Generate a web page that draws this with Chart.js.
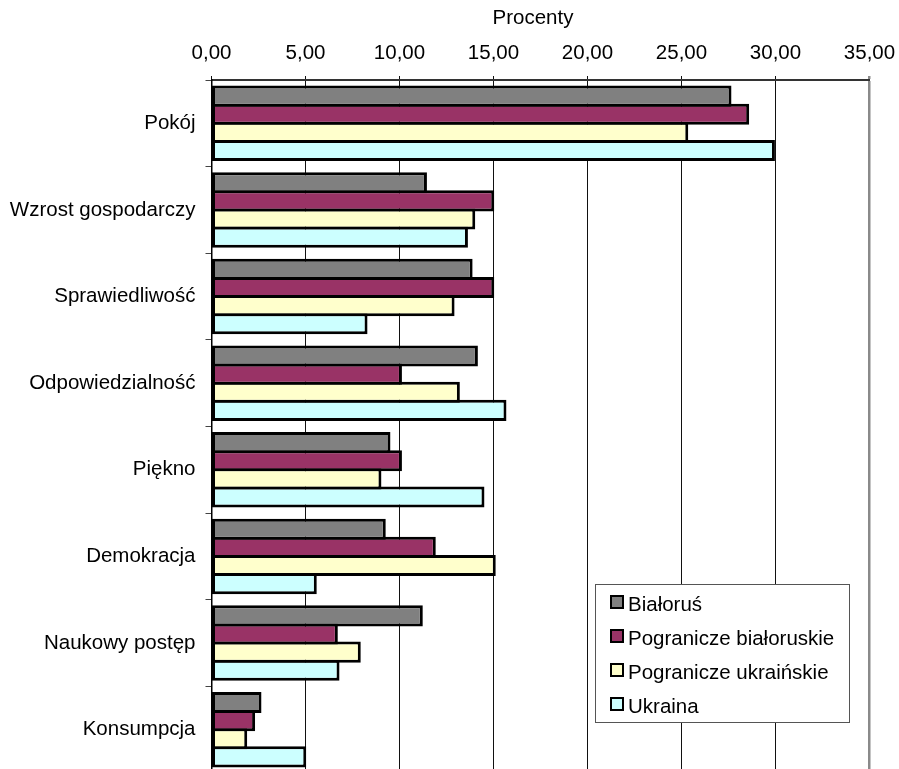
<!DOCTYPE html>
<html lang="pl">
<head>
  <meta charset="UTF-8" />
  <title>Wartości - Procenty</title>
  <script src="https://cdn.jsdelivr.net/npm/chart.js"></script>
  <style>
    html, body {
      margin: 0;
      padding: 0;
      background: #fff;
      overflow: hidden;
    }
    #wrap {
      position: relative;
      width: 899px;
      height: 773px;
    }
  </style>
</head>
<body>
  <div id="wrap">
    <canvas id="wartosciChart"></canvas>
  </div>

  <script>
    const categories = [
      "Pokój",
      "Wzrost gospodarczy",
      "Sprawiedliwość",
      "Odpowiedzialność",
      "Piękno",
      "Demokracja",
      "Naukowy postęp",
      "Konsumpcja"
    ];

    const bialorus = [27.66, 11.46, 13.89, 14.17, 9.52, 9.27, 11.24, 2.66];
    const pograniczeBialoruskie = [28.60, 15.04, 15.04, 10.13, 10.13, 11.93, 6.72, 2.32];
    const pograniczeUkrainskie = [25.36, 14.03, 12.93, 13.21, 9.04, 15.12, 7.94, 1.90];
    const ukraina = [29.97, 13.64, 8.30, 15.69, 14.52, 5.60, 6.81, 5.04];

    const tickLabels = ["0,00", "5,00", "10,00", "15,00", "20,00", "25,00", "30,00", "35,00"];

    const FONT = "'Liberation Sans', Arial, sans-serif";
    const FONT_SIZE = 20.5;

    // legenda w ramce, na obszarze wykresu (prawy dół)
    const boxLegend = {
      id: "boxLegend",
      afterDraw(chart) {
        const ctx = chart.ctx;
        const x = 595, y = 584, w = 254, h = 138;
        ctx.save();
        ctx.fillStyle = "#fff";
        ctx.fillRect(x, y, w, h);
        ctx.strokeStyle = "#555";
        ctx.lineWidth = 1;
        ctx.strokeRect(x + 0.5, y + 0.5, w, h);

        ctx.font = FONT_SIZE + "px " + FONT;
        ctx.textBaseline = "alphabetic";
        ctx.textAlign = "left";
        chart.data.datasets.forEach((ds, i) => {
          const rowY = y + 11 + i * 34;
          ctx.fillStyle = "#000";
          ctx.fillRect(x + 15, rowY, 14, 14);
          ctx.fillStyle = ds.backgroundColor;
          ctx.fillRect(x + 17, rowY + 2, 10, 10);
          ctx.fillStyle = "#000";
          ctx.fillText(ds.label, x + 33, rowY + 16);
        });
        ctx.restore();
      }
    };

    // podpis osi X nad etykietami
    const axisCaption = {
      id: "axisCaption",
      afterDraw(chart) {
        const ctx = chart.ctx;
        ctx.save();
        ctx.font = FONT_SIZE + "px " + FONT;
        ctx.fillStyle = "#000";
        ctx.textAlign = "center";
        ctx.textBaseline = "alphabetic";
        ctx.fillText("Procenty", 533, 24);
        ctx.restore();
      }
    };

    function makeSet(label, data, color) {
      return {
        label,
        data,
        backgroundColor: color,
        borderColor: "#000",
        borderWidth: 3,
        borderSkipped: false,
        categoryPercentage: 0.838,
        barPercentage: 1.165
      };
    }

    const ctx = document.getElementById("wartosciChart").getContext("2d");
    new Chart(ctx, {
      type: "bar",
      data: {
        labels: categories,
        datasets: [
          makeSet("Białoruś", bialorus, "#808080"),
          makeSet("Pogranicze białoruskie", pograniczeBialoruskie, "#993366"),
          makeSet("Pogranicze ukraińskie", pograniczeUkrainskie, "#FFFFCC"),
          makeSet("Ukraina", ukraina, "#CCFFFF")
        ]
      },
      options: {
        indexAxis: "y",
        responsive: true,
        maintainAspectRatio: false,
        animation: false,
        layout: {
          padding: { left: 0, right: 29.5, top: 0, bottom: 0 }
        },
        plugins: {
          legend: { display: false },
          tooltip: { enabled: false }
        },
        scales: {
          x: {
            position: "top",
            min: 0,
            max: 35,
            afterFit(scale) {
              scale.height = 80;
              scale.paddingLeft = 0;
              scale.paddingRight = 0;
            },
            ticks: {
              stepSize: 5,
              padding: 10,
              color: "#000",
              font: { family: FONT, size: FONT_SIZE },
              callback: (value, index) => tickLabels[index]
            },
            grid: {
              drawTicks: true,
              tickLength: 4,
              color: (c) => c.tick && c.tick.value === 35 ? "#8a8a8a" : "#111",
              lineWidth: (c) => c.tick && c.tick.value === 35 ? 2.5 : 1
            },
            border: { color: "#333", width: 2 }
          },
          y: {
            afterFit(scale) {
              scale.width = 211.5;
              scale.paddingTop = 0;
              scale.paddingBottom = 0;
            },
            ticks: {
              padding: 10,
              color: "#000",
              font: { family: FONT, size: FONT_SIZE }
            },
            grid: {
              drawOnChartArea: false,
              drawTicks: true,
              tickLength: 6,
              color: "#444"
            },
            border: { color: "#000", width: 1.5 }
          }
        }
      },
      plugins: [boxLegend, axisCaption]
    });
  </script>
</body>
</html>
